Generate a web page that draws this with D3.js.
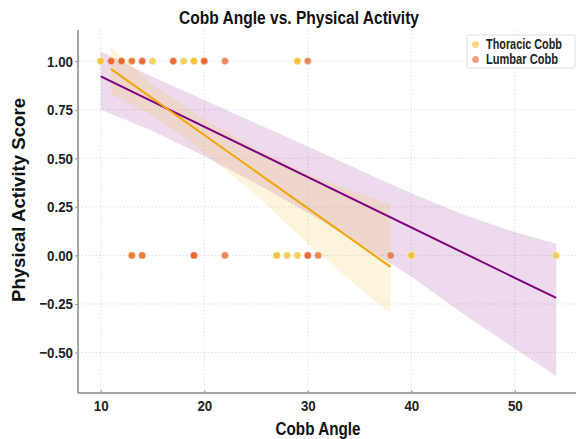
<!DOCTYPE html>
<html>
<head>
<meta charset="utf-8">
<script src="https://cdn.jsdelivr.net/npm/d3@7"></script>
<style>
  body { margin: 0; background: #fff; }
  svg { display: block; font-family: "Liberation Sans", Arial, sans-serif; }
</style>
</head>
<body>
<div id="chart"></div>
<script>
// Scatter points: Cobb angle and activity score (repeated angles = several patients)
const thoracicAngles = [10, 10, 13, 15, 18, 19, 19, 29, 29, 13, 14, 27, 27, 28, 29, 40, 40, 54];
const thoracicScores = [1, 1, 1, 1, 1, 1, 1, 1, 1, 0, 0, 0, 0, 0, 0, 0, 0, 0];
const lumbarAngles = [11, 11, 12, 12, 13, 14, 14, 17, 17, 20, 20, 22, 30, 13, 14, 19, 19, 22, 30, 30, 31, 38];
const lumbarScores = [1, 1, 1, 1, 1, 1, 1, 1, 1, 1, 1, 1, 1, 0, 0, 0, 0, 0, 0, 0, 0, 0];

// Regression fits and confidence bands
const thoracicFitX = [10, 54];
const thoracicFitY = [0.921, -0.219];
const thoracicBandX = [10, 15, 20, 25, 30, 35, 40, 45, 50, 54];
const thoracicBandLow = [0.75, 0.64, 0.51, 0.37, 0.22, 0.06, -0.11, -0.30, -0.48, -0.62];
const thoracicBandHigh = [1.05, 0.92, 0.80, 0.68, 0.56, 0.44, 0.32, 0.21, 0.12, 0.06];

const lumbarFitX = [11, 38];
const lumbarFitY = [0.959, -0.059];
const lumbarBandX = [11, 15, 20, 25, 30, 35, 38];
const lumbarBandLow = [0.83, 0.72, 0.53, 0.31, 0.06, -0.17, -0.30];
const lumbarBandHigh = [1.07, 0.88, 0.70, 0.55, 0.42, 0.32, 0.26];

const xTicks = [10, 20, 30, 40, 50];
const yTicks = [-0.5, -0.25, 0, 0.25, 0.5, 0.75, 1.0];
const legendLabels = ["Thoracic Cobb", "Lumbar Cobb"];

const width = 576, height = 439;
const margin = { top: 30, right: -3, bottom: 46, left: 78 };

const thoracicColor = "#f2c12e";
const lumbarColor = "#e8602c";
const thoracicLine = "#800080";
const lumbarLine = "#f2a500";

// squeeze text horizontally to mimic the condensed face of the original
function condense(sel, factor, target) {
    sel.each(function() {
        const len = this.getComputedTextLength();
        d3.select(this)
            .attr("textLength", target || len * factor)
            .attr("lengthAdjust", "spacingAndGlyphs");
    });
}

const svg = d3.select("#chart").append("svg")
    .attr("width", width)
    .attr("height", height);

svg.append("rect").attr("width", width).attr("height", height).attr("fill", "#fff");

const x = d3.scaleLinear()
    .domain([7.8, 56.2])
    .range([margin.left, width - margin.right]);

const y = d3.scaleLinear()
    .domain([-0.708, 1.16])
    .range([height - margin.bottom, margin.top]);

// grid
const grid = svg.append("g")
    .attr("stroke", "#d9d9d9")
    .attr("stroke-width", 0.8)
    .attr("stroke-dasharray", "1.5,2");

grid.selectAll("line.v")
    .data(xTicks)
    .join("line")
    .attr("x1", d => x(d)).attr("x2", d => x(d))
    .attr("y1", margin.top).attr("y2", height - margin.bottom);

grid.selectAll("line.h")
    .data(yTicks)
    .join("line")
    .attr("x1", margin.left).attr("x2", width)
    .attr("y1", d => y(d)).attr("y2", d => y(d));

// bands
const area = d3.area()
    .x(d => x(d[0]))
    .y0(d => y(d[1]))
    .y1(d => y(d[2]));

svg.append("path")
    .datum(thoracicBandX.map((v, i) => [v, thoracicBandLow[i], thoracicBandHigh[i]]))
    .attr("d", area)
    .attr("fill", thoracicLine)
    .attr("fill-opacity", 0.14);

svg.append("path")
    .datum(lumbarBandX.map((v, i) => [v, lumbarBandLow[i], lumbarBandHigh[i]]))
    .attr("d", area)
    .attr("fill", "#f0c020")
    .attr("fill-opacity", 0.16);

// points
const pts = svg.append("g");

pts.selectAll("circle.t")
    .data(thoracicAngles.map((a, i) => [a, thoracicScores[i]]))
    .join("circle")
    .attr("cx", d => x(d[0]))
    .attr("cy", d => y(d[1]))
    .attr("r", 3.6)
    .attr("fill", thoracicColor)
    .attr("fill-opacity", 0.75)
    .attr("stroke", "#fff")
    .attr("stroke-width", 0.4);

pts.selectAll("circle.l")
    .data(lumbarAngles.map((a, i) => [a, lumbarScores[i]]))
    .join("circle")
    .attr("cx", d => x(d[0]))
    .attr("cy", d => y(d[1]))
    .attr("r", 3.6)
    .attr("fill", lumbarColor)
    .attr("fill-opacity", 0.75)
    .attr("stroke", "#fff")
    .attr("stroke-width", 0.4);

// fit lines
const line = d3.line().x(d => x(d[0])).y(d => y(d[1]));

svg.append("path")
    .datum(thoracicFitX.map((v, i) => [v, thoracicFitY[i]]))
    .attr("d", line)
    .attr("fill", "none")
    .attr("stroke", thoracicLine)
    .attr("stroke-width", 2);

svg.append("path")
    .datum(lumbarFitX.map((v, i) => [v, lumbarFitY[i]]))
    .attr("d", line)
    .attr("fill", "none")
    .attr("stroke", lumbarLine)
    .attr("stroke-width", 2);

// axes
const xAxis = svg.append("g")
    .attr("transform", `translate(0,${height - margin.bottom})`)
    .call(d3.axisBottom(x).tickValues(xTicks).tickSize(3).tickPadding(4).tickFormat(d3.format("d")));

const yAxis = svg.append("g")
    .attr("transform", `translate(${margin.left},0)`)
    .call(d3.axisLeft(y).tickValues(yTicks).tickSize(3).tickPadding(2).tickFormat(d3.format(".2f")));

[xAxis, yAxis].forEach(ax => {
    ax.select(".domain").attr("stroke", "#888").attr("stroke-width", 1.5);
    ax.selectAll(".tick line").attr("stroke", "#999");
    ax.selectAll(".tick text")
        .attr("fill", "#222")
        .style("font-size", "15.5px")
        .style("font-weight", "bold")
        .style("font-family", "'Liberation Sans', Arial, sans-serif")
        .call(condense, 0.86);
});
xAxis.select(".domain").attr("d", `M${margin.left},0H${width}`);
yAxis.select(".domain").attr("d", `M0,${margin.top}V${height - margin.bottom}`);
xAxis.selectAll(".tick line").attr("y2", -3);

// titles
svg.append("text")
    .attr("x", 299)
    .attr("y", 24)
    .attr("text-anchor", "middle")
    .style("font-size", "18px")
    .style("font-weight", "bold")
    .attr("fill", "#111")
    .text("Cobb Angle vs. Physical Activity")
    .call(condense, 1, 240);

svg.append("text")
    .attr("x", 318)
    .attr("y", 435)
    .attr("text-anchor", "middle")
    .style("font-size", "18px")
    .style("font-weight", "bold")
    .attr("fill", "#111")
    .text("Cobb Angle")
    .call(condense, 1, 85);

svg.append("text")
    .attr("transform", `translate(25,200) rotate(-90)`)
    .attr("text-anchor", "middle")
    .style("font-size", "18px")
    .style("font-weight", "bold")
    .attr("fill", "#111")
    .text("Physical Activity Score")
    .call(condense, 1, 204);

// legend
const legend = svg.append("g").attr("transform", "translate(467,35)");

legend.append("rect")
    .attr("width", 108)
    .attr("height", 33)
    .attr("rx", 2)
    .attr("fill", "#fff")
    .attr("fill-opacity", 0.9)
    .attr("stroke", "#ddd");

const legendWidths = [76, 72];
legendLabels.forEach((label, i) => {
    const row = legend.append("g").attr("transform", `translate(8.5,${9.5 + i * 15})`);
    row.append("circle")
        .attr("r", 3.4)
        .attr("fill", i === 0 ? thoracicColor : lumbarColor)
        .attr("fill-opacity", 0.6);
    const holder = row.append("g");
    const t = holder.append("text")
        .attr("dy", "0.35em")
        .style("font-size", "14px")
        .style("font-weight", "bold")
        .attr("fill", "#222")
        .text(label);
    const sx = legendWidths[i] / t.node().getComputedTextLength();
    holder.attr("transform", `translate(10.5,0) scale(${sx},1)`);
});
</script>
</body>
</html>
